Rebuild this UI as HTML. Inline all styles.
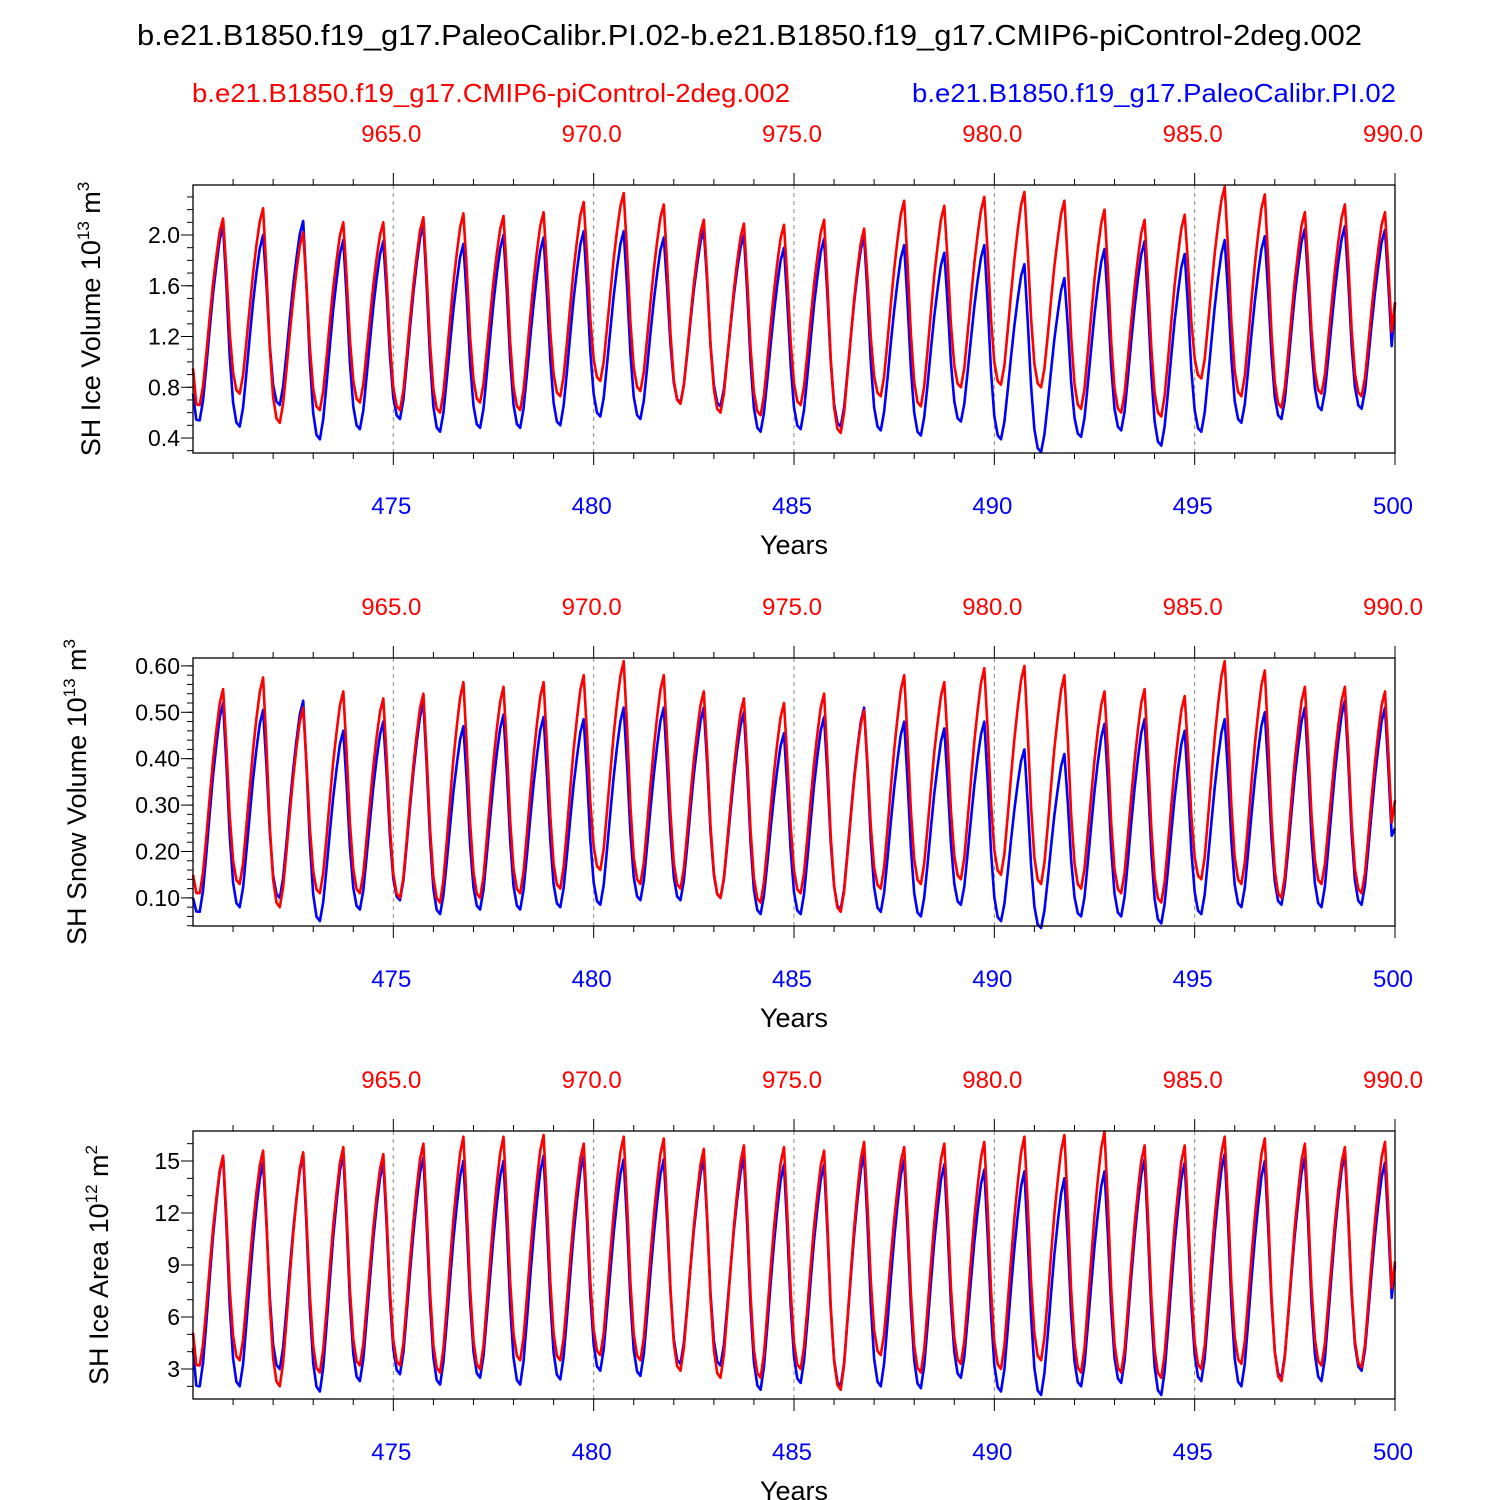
<!DOCTYPE html>
<html><head><meta charset="utf-8"><style>
body{margin:0;background:#fff}
svg{display:block;font-family:"Liberation Sans",Arial,sans-serif}
</style></head><body>
<svg id="chart" width="1500" height="1500" viewBox="0 0 1500 1500" xmlns="http://www.w3.org/2000/svg">
<text x="137" y="45" font-size="29" textLength="1225" lengthAdjust="spacingAndGlyphs">b.e21.B1850.f19_g17.PaleoCalibr.PI.02-b.e21.B1850.f19_g17.CMIP6-piControl-2deg.002</text>
<text x="192" y="102" font-size="26" fill="#f00" textLength="598" lengthAdjust="spacingAndGlyphs">b.e21.B1850.f19_g17.CMIP6-piControl-2deg.002</text>
<text x="912" y="102" font-size="26" fill="#00f" textLength="484" lengthAdjust="spacingAndGlyphs">b.e21.B1850.f19_g17.PaleoCalibr.PI.02</text>
</svg>
<script>
const bottomTicks=[475,480,485,490,495,500];
const topTickLabels=["965.0","970.0","975.0","980.0","985.0","990.0"];
const shape=[0.12,0.02,0,0.1,0.28,0.47,0.65,0.8,0.93,1,0.7,0.35];

const volRedPeak=[2.13,2.21,2.02,2.10,2.10,2.14,2.17,2.15,2.18,2.26,2.33,2.24,2.12,2.09,2.08,2.12,2.05,2.27,2.23,2.30,2.34,2.27,2.20,2.12,2.16,2.38,2.32,2.18,2.24,2.18];
const volRedTrough=[0.66,0.75,0.52,0.62,0.68,0.62,0.60,0.68,0.62,0.73,0.85,0.77,0.67,0.60,0.58,0.66,0.44,0.73,0.65,0.80,0.82,0.80,0.63,0.60,0.57,0.87,0.73,0.64,0.75,0.73];
const volRedEnds=[0.95,1.47];
const volBluePeak=[2.07,2.00,2.11,1.96,1.95,2.08,1.93,2.00,1.98,2.03,2.03,1.98,2.04,2.00,1.90,1.97,1.99,1.92,1.86,1.92,1.77,1.66,1.89,1.95,1.85,1.96,1.99,2.05,2.07,2.04];
const volBlueTrough=[0.54,0.49,0.66,0.39,0.47,0.55,0.45,0.48,0.48,0.50,0.57,0.55,0.68,0.65,0.45,0.47,0.49,0.46,0.42,0.53,0.39,0.29,0.41,0.46,0.34,0.45,0.52,0.55,0.62,0.63];
const volBlueEnds=[0.75,1.47];

const snowRedPeak=[.55,.575,.51,.545,.53,.54,.565,.555,.565,.58,.61,.58,.545,.53,.52,.54,.505,.58,.565,.595,.60,.58,.545,.55,.535,.61,.59,.555,.555,.545];
const snowRedTrough=[.11,.13,.08,.11,.11,.10,.09,.10,.11,.12,.16,.13,.12,.10,.09,.11,.07,.12,.13,.14,.15,.13,.12,.11,.09,.14,.13,.10,.13,.11];
const snowRedEnds=[.15,.31];
const snowBluePeak=[.52,.505,.525,.46,.48,.52,.47,.495,.49,.485,.51,.51,.51,.50,.455,.49,.51,.48,.465,.48,.42,.41,.475,.485,.46,.485,.50,.51,.525,.51];
const snowBlueTrough=[.07,.08,.10,.05,.075,.095,.065,.075,.075,.08,.085,.095,.095,.10,.065,.065,.075,.07,.06,.085,.05,.035,.06,.06,.045,.065,.08,.085,.08,.085];
const snowBlueEnds=[.10,.25];

const areaRedPeak=[15.3,15.6,15.5,15.8,15.4,16.0,16.4,16.4,16.5,16.0,16.4,16.3,15.7,15.9,15.8,15.6,16.1,15.8,16.0,16.1,16.4,16.5,16.7,15.9,15.9,16.4,16.3,16.0,15.8,16.1];
const areaRedTrough=[3.2,3.5,2.0,2.8,3.2,3.2,2.8,3.0,3.5,3.5,3.8,3.5,2.9,2.5,2.5,3.0,1.8,3.8,2.8,3.3,3.0,3.5,2.8,2.8,2.5,3.0,3.3,2.3,3.2,3.1];
const areaRedEnds=[5.1,9.2];
const areaBluePeak=[15.3,14.9,15.3,15.4,14.9,15.2,15.0,15.0,15.3,15.3,15.1,15.1,15.1,15.2,14.8,14.8,15.4,15.1,14.8,14.5,14.4,14.0,14.4,15.1,14.9,15.4,15.0,15.2,15.4,14.9];
const areaBlueTrough=[2.0,2.0,3.0,1.7,2.3,2.7,2.1,2.5,2.1,2.4,2.9,2.6,3.3,3.2,1.8,2.2,2.0,2.0,1.9,2.5,1.7,1.5,2.0,2.2,1.5,2.3,2.0,2.5,2.3,2.9];
const areaBlueEnds=[4.2,9.0];

const svg=document.getElementById('chart');
const NS='http://www.w3.org/2000/svg';
function mk(tag,attrs,parent){const e=document.createElementNS(NS,tag);for(const k in attrs)e.setAttribute(k,attrs[k]);(parent||svg).appendChild(e);return e;}

function series(peak,trough,ends){
  const pts=[];
  for(let i=0;i<peak.length;i++){
    for(let m=0;m<12;m++){
      let v;
      if(m<=1){v=(i===0&&m===0)?ends[0]:(i===0?trough[0]+shape[m]*(ends[0]-trough[0]):trough[i]+shape[m]*(peak[i-1]-trough[i]));}
      else if(m<=9){v=trough[i]+shape[m]*(peak[i]-trough[i]);}
      else{const nt=i+1<trough.length?trough[i+1]:trough[i];v=nt+shape[m]*(peak[i]-nt);}
      pts.push([470+i+m/12,v]);
    }
  }
  pts.push([500,ends[1]]);
  return pts;
}

const X0=193,X1=1395;
function xs(t){return X0+(t-470)/30*(X1-X0);}

function panel(cfg){
  const top=cfg.top,bot=top+268;
  const ys=v=>bot-(v-cfg.ymin)/(cfg.ymax-cfg.ymin)*(bot-top);
  const g=mk('g',{});
  
  
  bottomTicks.slice(0,5).forEach(t=>{
    const l=mk('line',{x1:xs(t),x2:xs(t),y1:top,y2:bot,stroke:'#888','stroke-width':1,'stroke-dasharray':'4,4'},g);
    
    
  });
  [[cfg.blue,'#00f','blue-series'],[cfg.red,'#f00','red-series']].forEach(([d,c,n])=>{
    const p=mk('polyline',{points:d.map(q=>xs(q[0]).toFixed(1)+','+ys(q[1]).toFixed(1)).join(' '),fill:'none',stroke:c,'stroke-width':2.6,'stroke-linejoin':'round'},g);
    
    
  });
  const fr=mk('rect',{x:X0,y:top,width:X1-X0,height:bot-top,fill:'none',stroke:'#000','stroke-width':1.3},g);
  
  
  for(let yr=471;yr<=500;yr++){
    const major=yr%5===0, len=major?12:6;
    mk('line',{x1:xs(yr),x2:xs(yr),y1:bot,y2:bot+len,stroke:'#000','stroke-width':1},g);
    mk('line',{x1:xs(yr),x2:xs(yr),y1:top,y2:top-len,stroke:'#000','stroke-width':1},g);
  }
  bottomTicks.forEach((t,i)=>{
    const b=mk('text',{x:xs(t)-2,y:bot+61,'font-size':24,fill:'#00f','text-anchor':'middle'},g);b.textContent=t;
    
    
    const tp=mk('text',{x:xs(t)-2,y:top-43,'font-size':24,fill:'#f00','text-anchor':'middle'},g);tp.textContent=topTickLabels[i];
    
    
  });
  const xt=mk('text',{x:794,y:bot+101,'font-size':27,'text-anchor':'middle'},g);xt.textContent='Years';
  
  
  for(let v=cfg.minorStart;v<=cfg.ymax+1e-9;v+=cfg.minor){
    if(v<cfg.ymin)continue;
    mk('line',{x1:X0,x2:X0-6,y1:ys(v),y2:ys(v),stroke:'#000','stroke-width':1},g);
  }
  cfg.yticks.forEach(v=>{
    mk('line',{x1:X0,x2:X0-12,y1:ys(v),y2:ys(v),stroke:'#000','stroke-width':1},g);
    const t=mk('text',{x:X0-13,y:ys(v)+8,'font-size':23,'text-anchor':'end'},g);t.textContent=v.toFixed(cfg.dec);
    
    
  });
  const cy=(top+bot)/2;
  const yt=mk('text',{x:0,y:0,'font-size':27,'text-anchor':'middle',transform:`translate(${cfg.labelX},${cy}) rotate(-90)`},g);
  
  
  yt.innerHTML=cfg.label+' 10<tspan dy="-11" font-size="17">'+cfg.exp+'</tspan><tspan dy="11"> m</tspan><tspan dy="-11" font-size="17">'+cfg.mexp+'</tspan>';
}

panel({name:'ice-volume-panel',top:185,ymin:0.282,ymax:2.394,yticks:[0.4,0.8,1.2,1.6,2.0],dec:1,minor:0.1,minorStart:0.3,label:'SH Ice Volume',exp:'13',mexp:'3',labelX:100,
  red:series(volRedPeak,volRedTrough,volRedEnds),blue:series(volBluePeak,volBlueTrough,volBlueEnds)});
panel({name:'snow-volume-panel',top:658,ymin:0.0394,ymax:0.617,yticks:[0.1,0.2,0.3,0.4,0.5,0.6],dec:2,minor:0.02,minorStart:0.04,label:'SH Snow Volume',exp:'13',mexp:'3',labelX:86,
  red:series(snowRedPeak,snowRedTrough,snowRedEnds),blue:series(snowBluePeak,snowBlueTrough,snowBlueEnds)});
panel({name:'ice-area-panel',top:1131,ymin:1.27,ymax:16.73,yticks:[3,6,9,12,15],dec:0,minor:1,minorStart:2,label:'SH Ice Area',exp:'12',mexp:'2',labelX:108,
  red:series(areaRedPeak,areaRedTrough,areaRedEnds),blue:series(areaBluePeak,areaBlueTrough,areaBlueEnds)});
</script>
</body></html>
